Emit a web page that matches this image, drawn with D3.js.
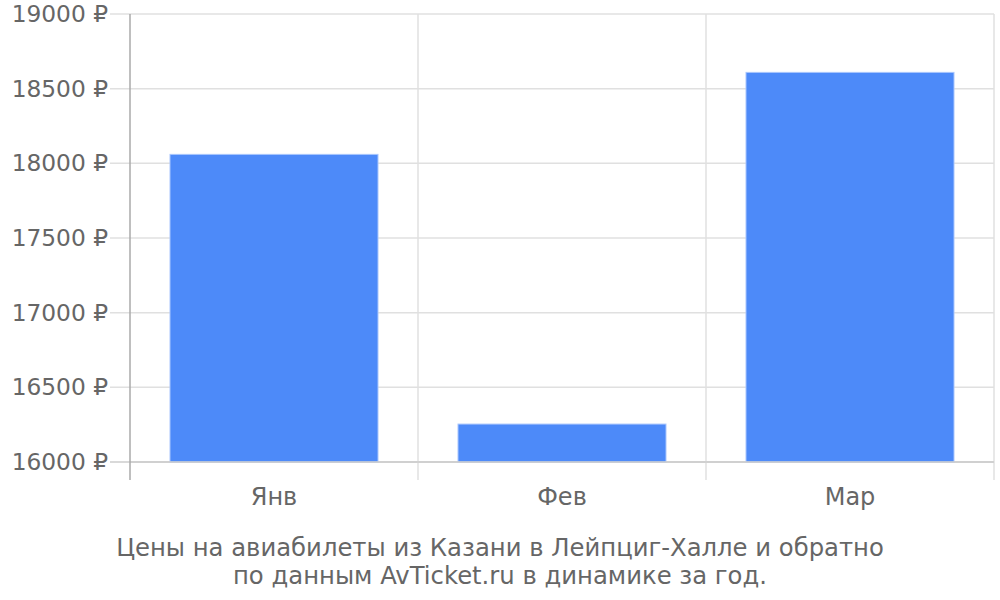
<!DOCTYPE html>
<html><head><meta charset="utf-8">
<script src="https://cdn.jsdelivr.net/npm/d3@7"></script>
<style>body{margin:0;background:#fff;} svg{display:block;font-family:"DejaVu Sans",sans-serif;}</style>
</head><body>
<svg id="c" width="1000" height="600"></svg>
<script>
const categories = ["Янв", "Фев", "Мар"];
const prices = [18060, 16254, 18609];
const yTicks = [16000, 16500, 17000, 17500, 18000, 18500, 19000];
const captionLines = ["Цены на авиабилеты из Казани в Лейпциг-Халле и обратно", "по данным AvTicket.ru в динамике за год."];

const svg = d3.select("#c");
const L = 130, R = 994, T = 14, B = 462;
const x = d3.scaleBand().domain(categories).range([L, R]).padding(0);
const y = d3.scaleLinear().domain([16000, 19000]).range([B, T]);
const barFrac = 208 / 288;

// horizontal grid
svg.append("g").selectAll("line").data(yTicks).join("line")
  .attr("x1", L - 20).attr("x2", R).attr("y1", d => y(d)).attr("y2", d => y(d))
  .attr("stroke", d => d === 16000 ? "#cccccc" : "#e0e0e0").attr("stroke-width", 1.5);

// vertical grid at band edges
const edges = categories.map(c => x(c)).concat([R]);
svg.append("g").selectAll("line").data(edges.slice(1)).join("line")
  .attr("x1", d => d).attr("x2", d => d).attr("y1", T).attr("y2", B + 18)
  .attr("stroke", "#e0e0e0").attr("stroke-width", 1.5);

// bars
svg.append("g").selectAll("rect").data(categories).join("rect")
  .attr("x", c => x(c) + x.bandwidth() * (1 - barFrac) / 2)
  .attr("width", x.bandwidth() * barFrac)
  .attr("y", (c, i) => y(prices[i]))
  .attr("height", (c, i) => y(16000) - y(prices[i]))
  .attr("fill", "#4d8af9").attr("stroke", "#a9c6fd").attr("stroke-width", 1);

// baseline over bars
svg.append("line").attr("x1", L).attr("x2", R).attr("y1", B).attr("y2", B)
  .attr("stroke", "#cccccc").attr("stroke-width", 1.5);

// left axis line
svg.append("line").attr("x1", L).attr("x2", L).attr("y1", T).attr("y2", B + 18)
  .attr("stroke", "#aaaaaa").attr("stroke-width", 1.5);

// y labels
svg.append("g").selectAll("text").data(yTicks).join("text")
  .attr("x", L - 22).attr("y", d => y(d)).attr("dy", "0.35em")
  .attr("text-anchor", "end").attr("fill", "#666666").attr("font-size", 23.3)
  .text(d => d + " ₽");

// x labels
svg.append("g").selectAll("text").data(categories).join("text")
  .attr("x", c => x(c) + x.bandwidth() / 2).attr("y", 505)
  .attr("text-anchor", "middle").attr("fill", "#666666").attr("font-size", 24)
  .text(c => c);

// caption
svg.append("g").selectAll("text").data(captionLines).join("text")
  .attr("x", 500).attr("y", (d, i) => 556 + i * 28)
  .attr("text-anchor", "middle").attr("fill", "#666666").attr("font-size", 24.3)
  .text(d => d);
</script>
</body></html>
